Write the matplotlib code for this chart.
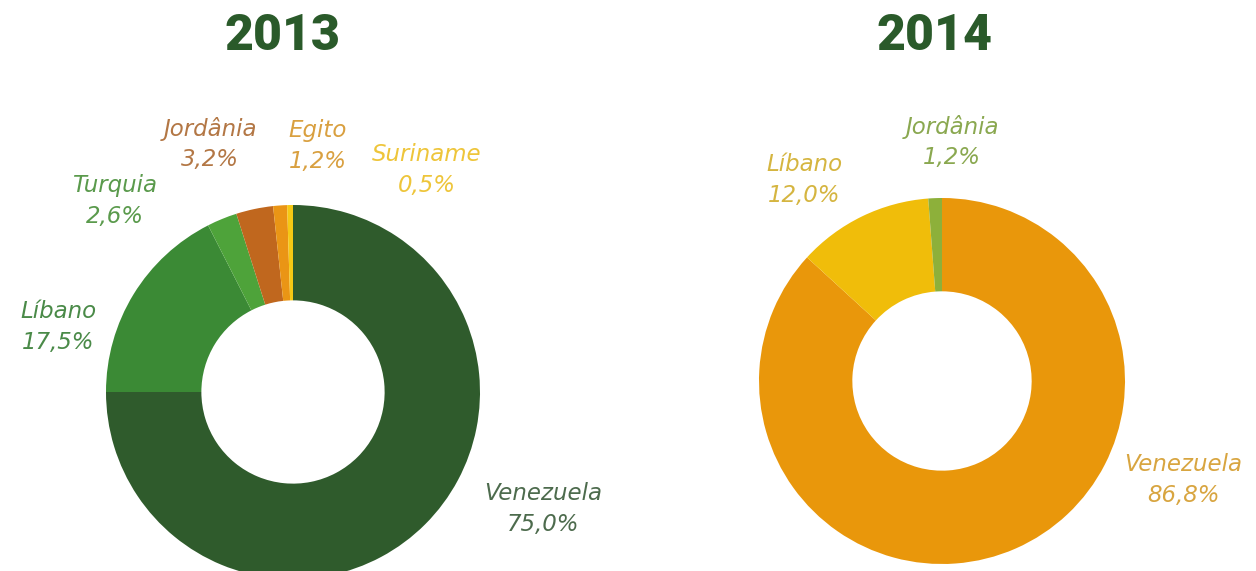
import matplotlib.pyplot as plt

# participacao por destino (%)
paises_2013 = ["Venezuela", "Líbano", "Turquia", "Jordânia", "Egito", "Suriname"]
valores_2013 = [75.0, 17.5, 2.6, 3.2, 1.2, 0.5]

paises_2014 = ["Venezuela", "Líbano", "Jordânia"]
valores_2014 = [86.8, 12.0, 1.2]

# cores das fatias e dos rotulos
cores_2013 = ["#2f5b2c", "#3b8a35", "#4ea33a", "#c0671e", "#ea9515", "#f6c814"]
cores_txt_2013 = ["#4d6b4d", "#4a8a48", "#5a9a4c", "#b37745", "#d9a040", "#eec53a"]
cores_2014 = ["#e9970b", "#f0bd0a", "#8db03a"]
cores_txt_2014 = ["#d8a540", "#d5b540", "#8aa850"]

# posicao dos rotulos (pixels, origem no topo)
pos_2013 = [(543, 509), (58, 327), (115, 201), (210, 144), (318, 146), (427, 170)]
pos_2014 = [(1183, 480), (804, 180), (952, 142)]

W, H = 1256, 571
fig = plt.figure(figsize=(W / 100, H / 100), dpi=100)
ax = fig.add_axes([0, 0, 1, 1])


def rosca(valores, cores, cx, cy, r):
    ax.pie(valores, colors=cores, startangle=90, counterclock=False,
           center=(cx, H - cy), radius=r,
           wedgeprops=dict(width=r * 0.51, linewidth=0))


def rotulos(nomes, valores, cores, posicoes):
    for nome, v, c, (x, y) in zip(nomes, valores, cores, posicoes):
        txt = nome + "\n" + f"{v:.1f}".replace(".", ",") + "%"
        ax.text(x, H - y, txt, ha="center", va="center", color=c,
                fontsize=16.5, fontstyle="italic", linespacing=1.4,
                family="DejaVu Sans")


rosca(valores_2013, cores_2013, 293, 392, 187)
rosca(valores_2014, cores_2014, 942, 381, 183)
rotulos(paises_2013, valores_2013, cores_txt_2013, pos_2013)
rotulos(paises_2014, valores_2014, cores_txt_2014, pos_2014)

for ano, x in [("2013", 282), ("2014", 935)]:
    ax.text(x, H - 36, ano, ha="center", va="center", color="#2a5a2a",
            fontsize=36, fontweight="black", family="Roboto")

ax.set_xlim(0, W)
ax.set_ylim(0, H)
ax.set_aspect("equal")
ax.axis("off")

fig.savefig("out.png", dpi=100)
